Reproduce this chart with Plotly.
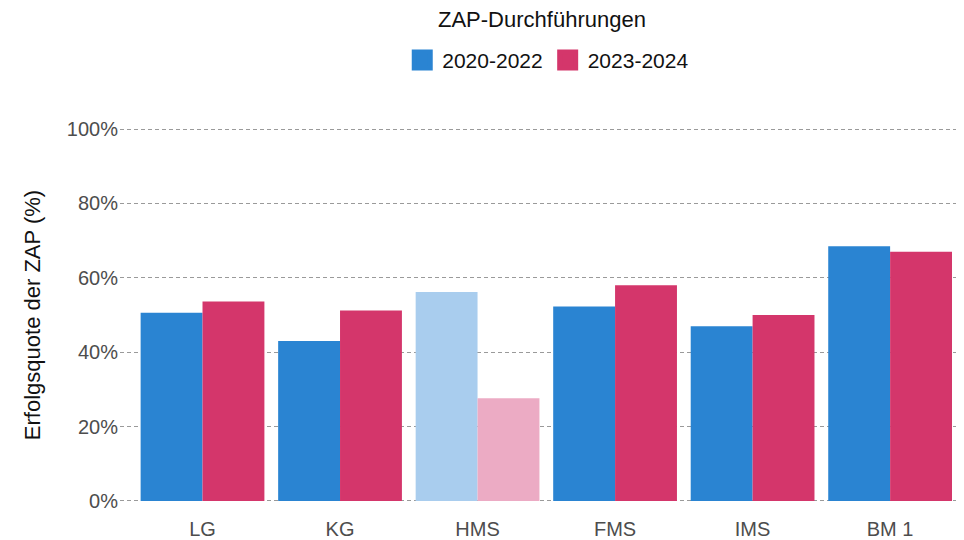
import plotly.graph_objects as go

categories = ['LG', 'KG', 'HMS', 'FMS', 'IMS', 'BM 1']
rate_2020_2022 = [50.6, 43.0, 56.2, 52.3, 47.0, 68.5]
rate_2023_2024 = [53.6, 51.2, 27.6, 58.0, 50.0, 67.0]
series_names = ['2020-2022', '2023-2024']
highlight = [True, True, False, True, True, True]
y_ticks = [0, 20, 40, 60, 80, 100]
y_ticklabels = ['0%', '20%', '40%', '60%', '80%', '100%']

blue, blue_light = '#2A84D2', '#A9CDEE'
pink, pink_light = '#D4366B', '#ECABC4'

fig = go.Figure()

for name, vals, col, col_l in [
    (series_names[0], rate_2020_2022, blue, blue_light),
    (series_names[1], rate_2023_2024, pink, pink_light),
]:
    colors = [col if h else col_l for h in highlight]
    fig.add_trace(go.Bar(
        x=categories, y=vals, name=name,
        marker=dict(color=colors, line=dict(width=0)),
        showlegend=False,
        hovertemplate='%{x}: %{y:.1f}%<extra>' + name + '</extra>'
    ))
    # legend-only entry with a big square key
    fig.add_trace(go.Scatter(
        x=[None], y=[None], mode='markers', name=name,
        marker=dict(symbol='square', size=30, color=col,
                    line=dict(width=8, color=col)),
    ))

# the page puts the figure 8px in from the top-left corner
fig.update_layout(
    width=956, height=532,
    barmode='group', bargap=0.1, bargroupgap=0,
    plot_bgcolor='white', paper_bgcolor='white',
    font=dict(family='Liberation Sans, Arial, sans-serif', color='#222222'),
    margin=dict(l=112, r=1, t=120, b=38, autoexpand=False),
    legend=dict(
        orientation='h', x=0.508, xanchor='center', y=1.181, yanchor='middle',
        font=dict(size=21, color='#111111'),
        itemsizing='trace', itemwidth=30,
    ),
    annotations=[dict(
        text='ZAP-Durchführungen', xref='paper', yref='paper',
        x=0.5, y=1.289, xanchor='center', yanchor='middle', showarrow=False,
        font=dict(size=22, color='#111111'),
    )],
)

fig.update_xaxes(
    range=[-0.6, 5.53], showgrid=False, zeroline=False, showline=False,
    ticks='outside', ticklen=9, tickcolor='rgba(0,0,0,0)',
    tickfont=dict(size=20, color='#4d4d4d'), fixedrange=True,
)
fig.update_yaxes(
    range=[-0.3, 100.3], tickvals=y_ticks, ticktext=y_ticklabels,
    showgrid=True, gridcolor='#9a9a9a', griddash='4px,3px', gridwidth=1.2,
    zeroline=False, showline=False,
    ticks='', ticklabelstandoff=1,
    tickfont=dict(size=20, color='#4d4d4d'),
    title=dict(text='Erfolgsquote der ZAP (%)', font=dict(size=22, color='#111111'), standoff=20),
    fixedrange=True,
)

fig.write_html('out.html')
